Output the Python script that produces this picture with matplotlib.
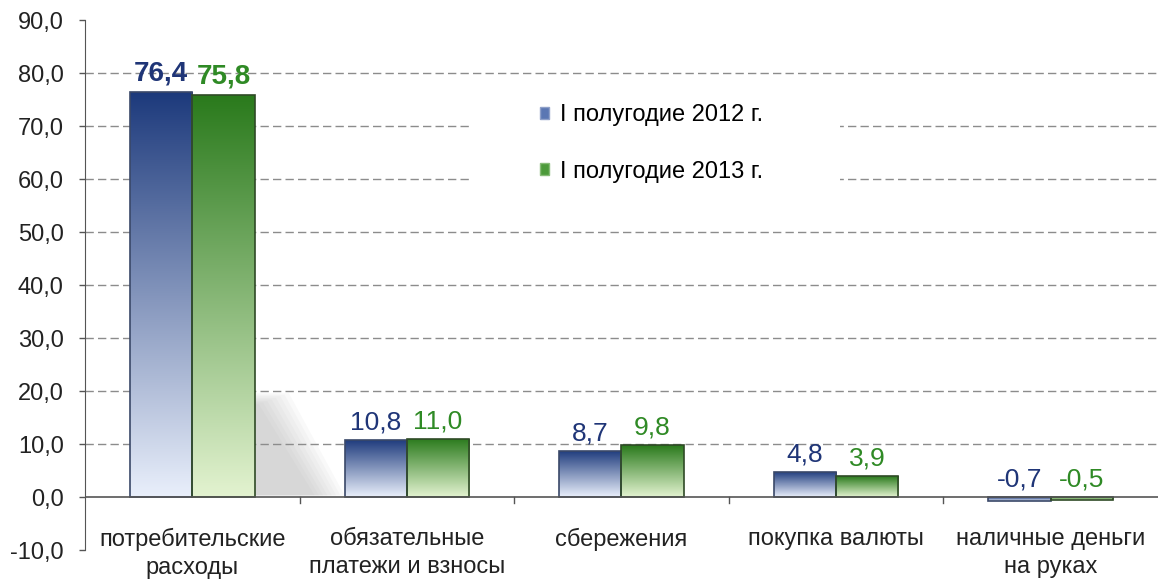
import numpy as np
import matplotlib.pyplot as plt
from matplotlib.colors import LinearSegmentedColormap
from matplotlib.patches import Patch, Rectangle, Polygon
from matplotlib.ticker import FuncFormatter

plt.rcParams['font.family'] = ['Liberation Sans', 'DejaVu Sans']

categories = ['потребительские\nрасходы', 'обязательные\nплатежи и взносы',
              'сбережения', 'покупка валюты', 'наличные деньги\nна руках']
series_names = ['I полугодие 2012 г.', 'I полугодие 2013 г.']
values_2012 = [76.4, 10.8, 8.7, 4.8, -0.7]
values_2013 = [75.8, 11.0, 9.8, 3.9, -0.5]

# top (dark) / bottom (light) colours of the gradient fill
blue_dark, blue_light = '#1d3a7c', '#e9effb'
green_dark, green_light = '#2a7a1c', '#e3f3d0'
blue_text, green_text = '#1f3577', '#2f8a25'


def comma(v, pos=None):
    return f'{v:.1f}'.replace('.', ',')


def gradient_bars(ax, bars, light, dark, edge):
    cmap = LinearSegmentedColormap.from_list('g', [light, dark])
    grad = np.linspace(0, 1, 256).reshape(-1, 1)
    for b in bars:
        x, y = b.get_x(), b.get_y()
        w, h = b.get_width(), b.get_height()
        y0, y1 = min(y, y + h), max(y, y + h)
        b.set_facecolor('none')
        b.set_edgecolor(edge)
        im = ax.imshow(grad, cmap=cmap, origin='lower', aspect='auto',
                       extent=[x, x + w, y0, y1], zorder=2, interpolation='bicubic')
        im.set_clip_path(b)


fig = plt.figure(figsize=(11.58, 5.8), dpi=100)
ax = fig.add_axes([0.0734, 0.0517, 0.9266, 0.9138])

x = np.arange(len(categories))
width = 0.29
bars12 = ax.bar(x - width / 2, values_2012, width, zorder=3, linewidth=1.2)
bars13 = ax.bar(x + width / 2, values_2013, width, zorder=3, linewidth=1.2)
gradient_bars(ax, bars12, blue_light, blue_dark, '#3a4868')
gradient_bars(ax, bars13, green_light, green_dark, '#2f4a26')

# soft cast shadow behind the tall bars of the first group (layered for a blur)
tall = bars13[0]
xr = tall.get_x() + tall.get_width()
for k in range(8):
    d = 0.02 * k
    ax.add_patch(Polygon([(xr, 19.6 - 0.3 * k), (xr + 0.16 - d, 19.6 - 0.3 * k),
                          (xr + 0.42 - d, 0.3), (xr, 0.3)],
                         closed=True, facecolor='#9a9a9a', edgecolor='none',
                         alpha=0.055, zorder=0.9))

ax.set_xlim(-0.5, len(categories) - 0.5)
ax.set_ylim(-10, 90)

# value labels above bars (or above zero for negatives)
for i, (a, b) in enumerate(zip(values_2012, values_2013)):
    weight = 'bold' if i == 0 else 'normal'
    size = 20 if i == 0 else 19
    ax.annotate(comma(a), (x[i] - width / 2, max(a, 0)), xytext=(0, 4),
                textcoords='offset points', ha='center', va='bottom',
                fontsize=size, color=blue_text, fontweight=weight, zorder=5)
    ax.annotate(comma(b), (x[i] + width / 2, max(b, 0)), xytext=(0, 4),
                textcoords='offset points', ha='center', va='bottom',
                fontsize=size, color=green_text, fontweight=weight, zorder=5)

# axes styling
ax.set_yticks(np.arange(-10, 91, 10))
ax.yaxis.set_major_formatter(FuncFormatter(comma))
ax.tick_params(axis='y', direction='out', length=4.3, width=1, color='#555555',
               labelsize=17, labelcolor='#222222', pad=11)
for yv in range(10, 90, 10):
    ax.axhline(yv, color='#8c8c8c', linestyle=(0, (6, 3)), linewidth=1, zorder=1)

for s in ['top', 'right', 'bottom']:
    ax.spines[s].set_visible(False)
ax.spines['left'].set_color('#555555')
ax.axhline(0, color='#555555', linewidth=1.2, zorder=4)

ax.set_xticks([])
for xm in x[:-1] + 0.5:
    ax.plot([xm, xm], [0, -1.2], color='#555555', linewidth=1, zorder=4,
            clip_on=False)
for xi, lab in zip(x, categories):
    ax.text(xi, -5.8, lab, ha='center', va='top', fontsize=17,
            color='#222222', linespacing=1.36)

# white box behind the legend hides the grid lines there
ax.add_patch(Rectangle((0.359, 0.651), 0.345, 0.217, transform=ax.transAxes,
                       facecolor='white', edgecolor='none', zorder=1.5))
handles = [Patch(facecolor='#5b77b3', edgecolor='#8fa0c8'),
           Patch(facecolor='#4c9a3a', edgecolor='#86bb76')]
leg = ax.legend(handles, series_names, loc='upper left',
                bbox_to_anchor=(0.424, 0.841), frameon=False, fontsize=17,
                handlelength=0.4, handleheight=0.4, handletextpad=0.45,
                labelspacing=1.45, borderpad=0, borderaxespad=0)
leg.set_zorder(6)

fig.savefig('out.png', dpi=100)
